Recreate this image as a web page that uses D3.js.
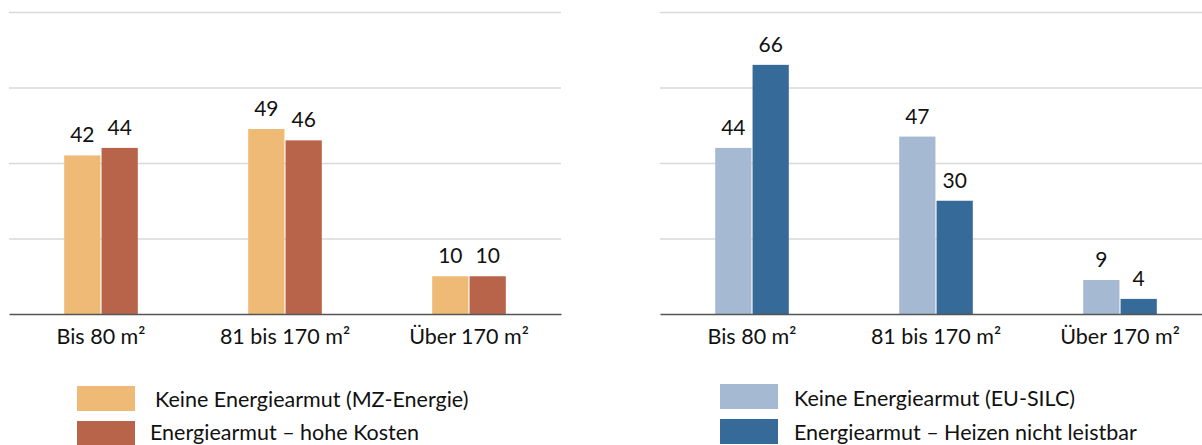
<!DOCTYPE html>
<html><head><meta charset="utf-8">
<script src="https://cdn.jsdelivr.net/npm/d3@7"></script>
<style>body{margin:0;background:#fff;}svg{display:block;font-family:Lato,"Open Sans",sans-serif;}</style>
</head><body><svg id="c" width="1202" height="445"></svg>
<script>
const categories = ["Bis 80 m²", "81 bis 170 m²", "Über 170 m²"];
const leftSeries = ["Keine Energiearmut (MZ-Energie)", "Energiearmut – hohe Kosten"];
const leftKeine = [42, 49, 10];
const leftArm = [44, 46, 10];
const rightSeries = ["Keine Energiearmut (EU-SILC)", "Energiearmut – Heizen nicht leistbar"];
const rightKeine = [44, 47, 9];
const rightArm = [66, 30, 4];
const yTicks = [0, 20, 40, 60, 80];

const svg = d3.select("#c");
const plotTop = 12, plotBase = 314;
const y = d3.scaleLinear().domain([0, 80]).range([plotBase, plotTop]);

function panel(x0, width, names, vals, colors, leg) {
  const g = svg.append("g");
  const x = d3.scaleBand().domain(categories).range([x0, x0 + width]).paddingInner(0.6).paddingOuter(0.3);
  const xs = d3.scaleBand().domain([0, 1]).range([0, x.bandwidth()]).paddingInner(0.03);
  g.append("g").attr("transform", `translate(${x0},0)`)
    .call(d3.axisLeft(y).tickValues(yTicks.filter(t => t > 0)).tickSize(-width).tickFormat(""))
    .call(a => a.select(".domain").remove())
    .call(a => a.selectAll("line").attr("stroke", "#d9d9d9").attr("stroke-width", 1.5));
  categories.forEach((c, i) => {
    [0, 1].forEach(s => {
      const v = vals[s][i];
      const bx = x(c) + xs(s);
      g.append("rect").attr("x", bx).attr("y", y(v)).attr("width", xs.bandwidth())
        .attr("height", y(0) - y(v)).attr("fill", colors[s]);
      g.append("text").attr("x", bx + xs.bandwidth() / 2).attr("y", y(v) - 13)
        .attr("text-anchor", "middle").attr("font-size", 21).attr("fill", "#111").text(v);
    });
  });
  const ax = g.append("g").attr("transform", `translate(0,${plotBase})`)
    .call(d3.axisBottom(x).tickSize(0).tickPadding(0));
  ax.select(".domain").attr("stroke", "#555").attr("stroke-width", 1.5);
  ax.selectAll("text").attr("dy", null).attr("y", 30).attr("font-size", 21.5).attr("fill", "#111")
    .attr("font-family", "Lato,'Open Sans',sans-serif");
  names.forEach((n, s) => {
    g.append("rect").attr("x", leg.rx).attr("y", leg.ry[s]).attr("width", 58).attr("height", 25).attr("fill", colors[s]);
    g.append("text").attr("x", leg.tx[s]).attr("y", leg.ty[s]).attr("font-size", 21.5).attr("fill", "#111").text(n);
  });
}

panel(9, 552, leftSeries, [leftKeine, leftArm], ["#EFBA75", "#B8644A"],
  {rx: 77, ry: [386, 421], tx: [155, 150], ty: [407, 440]});
panel(660, 552, rightSeries, [rightKeine, rightArm], ["#A6B9D2", "#366A99"],
  {rx: 720, ry: [384, 419], tx: [794, 794], ty: [406, 440]});
</script></body></html>
